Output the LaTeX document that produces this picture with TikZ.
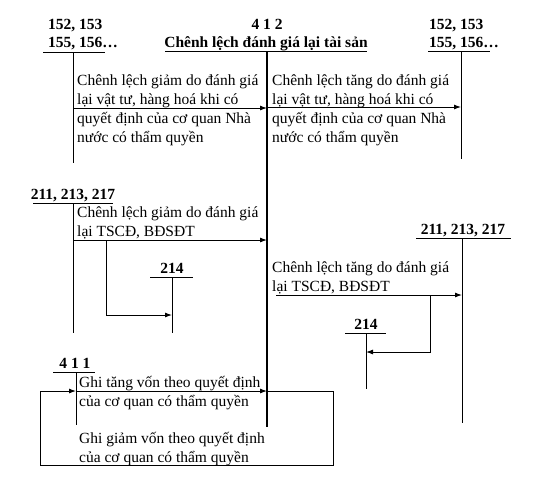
\documentclass[tikz,border=0pt]{standalone}
\usepackage{fontspec}
\setmainfont{Liberation Serif}
\usetikzlibrary{arrows.meta}
\begin{document}
\begin{tikzpicture}[x=1pt,y=-1pt,
  ln/.style={line width=0.8pt},
  main/.style={line width=1.5pt},
  lbl/.style={font=\fontsize{15.5}{17}\selectfont\bfseries, inner sep=0},
  txt/.style={font=\fontsize{15.5}{19}\selectfont, inner sep=0, align=left, anchor=north west},
  arr/.style={line width=0.9pt, -{Latex[length=7pt,width=5pt]}}]
\useasboundingbox[fill=white] (0,0) rectangle (550,499);

% ---- account 152 left
\coordinate (aL1) at (43,52); \coordinate (aL2) at (105,52);
\coordinate (aLt) at (73,52); \coordinate (aLb) at (73,163);
\draw[ln] (aL1) -- (aL2); \draw[ln] (aLt) -- (aLb);
\node[lbl, anchor=base west] (aLn1) at (48,29) {152, 153};
\node[lbl, anchor=base west] (aLn2) at (48,47) {155, 156…};

% ---- account 412
\coordinate (m1) at (165,51); \coordinate (m2) at (367,51);
\coordinate (mt) at (267,51); \coordinate (mb) at (267,427);
\draw[ln] (m1) -- (m2); \draw[main] (mt) -- (mb);
\node[lbl, anchor=base] (mn1) at (267,29) {4 1 2};
\node[lbl, anchor=base] (mn2) at (266,47) {Chênh lệch đánh giá lại tài sản};

% ---- account 152 right
\coordinate (aR1) at (428,51); \coordinate (aR2) at (490,51);
\coordinate (aRt) at (461,51); \coordinate (aRb) at (461,159);
\draw[ln] (aR1) -- (aR2); \draw[ln] (aRt) -- (aRb);
\node[lbl, anchor=base west] (aRn1) at (429,29) {152, 153};
\node[lbl, anchor=base west] (aRn2) at (429,47) {155, 156…};

% ---- arrow 1
\coordinate (r1s) at (73,108); \coordinate (r1e) at (267,108);
\draw[arr] (r1s) -- (r1e);
\node[txt] (t1) at (77,75) {Chênh lệch giảm do đánh giá\\lại vật tư, hàng hoá khi có\\quyết định của cơ quan Nhà\\nước có thẩm quyền};

% ---- arrow 2
\coordinate (r2s) at (267,107); \coordinate (r2e) at (461,107);
\draw[arr] (r2s) -- (r2e);
\node[txt] (t2) at (272,75) {Chênh lệch tăng do đánh giá\\lại vật tư, hàng hoá khi có\\quyết định của cơ quan Nhà\\nước có thẩm quyền};

% ---- account 211 left
\coordinate (bL1) at (33,203); \coordinate (bL2) at (113,203);
\coordinate (bLt) at (73,203); \coordinate (bLb) at (73,333);
\draw[ln] (bL1) -- (bL2); \draw[ln] (bLt) -- (bLb);
\node[lbl, anchor=base] (bLn) at (73,199) {211, 213, 217};

% ---- account 214 left
\coordinate (cL1) at (150,277); \coordinate (cL2) at (193,277);
\coordinate (cLt) at (172,277); \coordinate (cLb) at (172,333);
\draw[ln] (cL1) -- (cL2); \draw[ln] (cLt) -- (cLb);
\node[lbl, anchor=base] (cLn) at (172,273) {214};

\coordinate (r3s) at (73,240); \coordinate (r3e) at (267,240);
\draw[arr] (r3s) -- (r3e);
\node[txt] (t3) at (77,207) {Chênh lệch giảm do đánh giá\\lại TSCĐ, BĐSĐT};
\coordinate (r4s) at (106,240); \coordinate (r4e) at (172,315);
\draw[arr] (r4s) |- (r4e);

% ---- account 211 right
\coordinate (bR1) at (416,238); \coordinate (bR2) at (511,238);
\coordinate (bRt) at (462,238); \coordinate (bRb) at (462,423);
\draw[ln] (bR1) -- (bR2); \draw[ln] (bRt) -- (bRb);
\node[lbl, anchor=base] (bRn) at (463,234) {211, 213, 217};

% ---- account 214 right
\coordinate (cR1) at (345,333); \coordinate (cR2) at (386,333);
\coordinate (cRt) at (366,333); \coordinate (cRb) at (366,389);
\draw[ln] (cR1) -- (cR2); \draw[ln] (cRt) -- (cRb);
\node[lbl, anchor=base] (cRn) at (366,329) {214};

\coordinate (r5s) at (276,295); \coordinate (r5e) at (462,295);
\draw[arr] (r5s) -- (r5e);
\node[txt] (t5) at (272,262) {Chênh lệch tăng do đánh giá\\lại TSCĐ, BĐSĐT};
\coordinate (r6s) at (430,295); \coordinate (r6e) at (366,352);
\draw[arr] (r6s) |- (r6e);

% ---- account 411
\coordinate (d1) at (53,372); \coordinate (d2) at (95,372);
\coordinate (dt) at (76,372); \coordinate (db) at (76,425);
\draw[ln] (d1) -- (d2); \draw[ln] (dt) -- (db);
\node[lbl, anchor=base] (dn) at (75,368) {4 1 1};

\coordinate (r7s) at (76,391); \coordinate (r7e) at (267,391);
\draw[arr] (r7s) -- (r7e);
\node[txt] (t7) at (79,376) {Ghi tăng vốn theo quyết định\\của cơ quan có thẩm quyền};

\coordinate (lp1) at (267,391); \coordinate (lp2) at (333,465);
\coordinate (lp3) at (40,391); \coordinate (lp4) at (76,391);
\draw[arr] (lp1) -| (lp2) -| (lp3) -- (lp4);
\node[txt] (t8) at (79,432) {Ghi giảm vốn theo quyết định\\của cơ quan có thẩm quyền};
\end{tikzpicture}
\end{document}
